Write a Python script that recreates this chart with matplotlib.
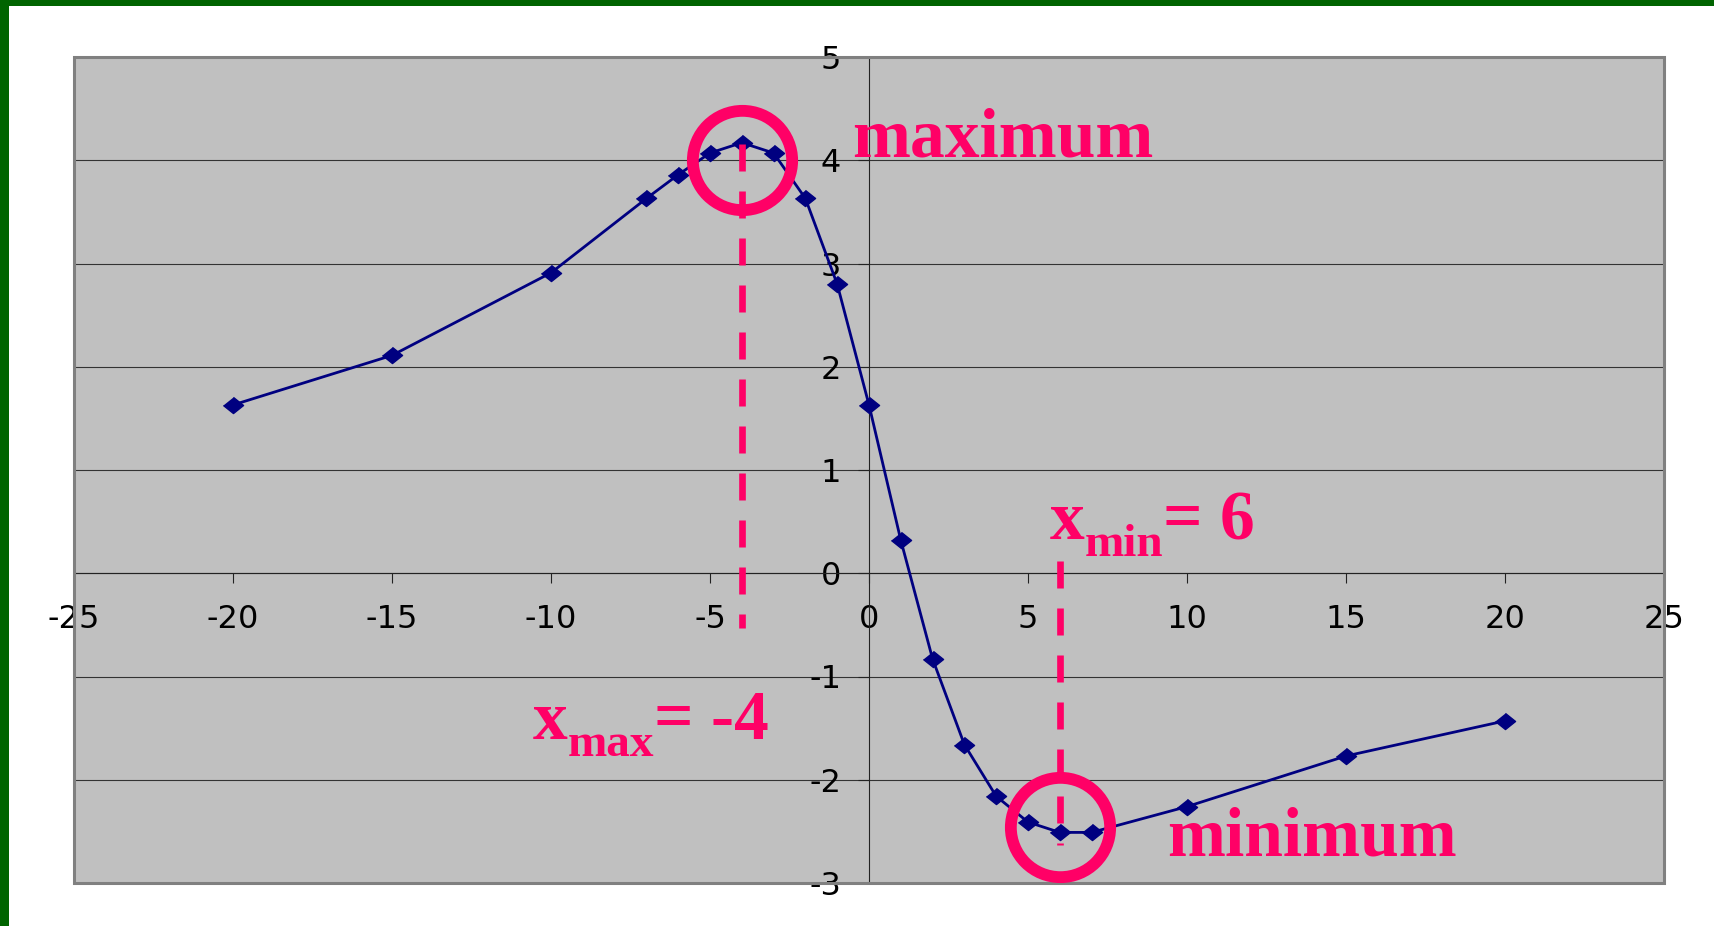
import matplotlib
matplotlib.use("Agg")
import matplotlib.pyplot as plt
from matplotlib.patches import Rectangle

# data
x_vals = [-20, -15, -10, -7, -6, -5, -4, -3, -2, -1, 0, 1, 2, 3, 4, 5, 6, 7, 10, 15, 20]
y_vals = [1.63, 2.11, 2.91, 3.63, 3.86, 4.07, 4.17, 4.07, 3.63, 2.80, 1.63, 0.32, -0.83,
          -1.66, -2.16, -2.41, -2.51, -2.51, -2.26, -1.77, -1.43]
x_ticks = [-25, -20, -15, -10, -5, 0, 5, 10, 15, 20, 25]
y_ticks = [-3, -2, -1, 0, 1, 2, 3, 4, 5]

# extrema to mark
x_max, y_max = -4, 4.0
x_min, y_min = 6, -2.46

PINK = '#FF0066'
NAVY = '#000080'

plt.rcParams['axes.unicode_minus'] = False
plt.rcParams['font.family'] = ['DejaVu Sans']

fig = plt.figure(figsize=(17.15, 9.26), dpi=100)
fig.patch.set_facecolor('white')

# green frame on the top and left edge of the slide
fig.patches.append(Rectangle((0, 1 - 6 / 926), 1, 6 / 926, transform=fig.transFigure,
                             facecolor='#006400', edgecolor='none', zorder=0))
fig.patches.append(Rectangle((0, 0), 9 / 1715, 1, transform=fig.transFigure,
                             facecolor='#006400', edgecolor='none', zorder=0))

ax = fig.add_axes([74 / 1715, 1 - 883 / 926, 1590 / 1715, 826 / 926])
ax.set_facecolor('#C0C0C0')
ax.set_xlim(-25, 25)
ax.set_ylim(-3, 5)

# axes cross at zero, like the Excel chart
ax.spines['left'].set_position(('data', 0))
ax.spines['bottom'].set_position(('data', 0))
ax.spines['top'].set_visible(False)
ax.spines['right'].set_visible(False)
for s in ('left', 'bottom'):
    ax.spines[s].set_color('#222222')
    ax.spines[s].set_linewidth(0.8)

ax.add_patch(Rectangle((0, 0), 1, 1, transform=ax.transAxes, fill=False,
                       edgecolor='#808080', linewidth=2.2, clip_on=False, zorder=5))

ax.set_xticks(x_ticks)
ax.set_yticks(y_ticks)
ax.tick_params(axis='x', direction='out', length=7, width=0.8, color='#222222',
               pad=15, labelsize=23)
ax.tick_params(axis='y', direction='out', length=8, width=0.8, color='#222222',
               pad=12, labelsize=23)

ax.yaxis.grid(True, color='#333333', linewidth=0.8)
ax.set_axisbelow(True)

diamond = [(-1, 0), (0, -0.8), (1, 0), (0, 0.8)]
ax.plot(x_vals, y_vals, color=NAVY, linewidth=2, marker=diamond, markersize=14.5,
        markerfacecolor=NAVY, markeredgecolor=NAVY, zorder=3)

# dashed guides and rings at the extrema
ax.plot([x_max, x_max], [4.16, -0.53], color=PINK, linewidth=4.8, dashes=(4.05, 3.0), zorder=4)
ax.plot([x_min, x_min], [0.12, -2.63], color=PINK, linewidth=4.8, dashes=(4.05, 3.0), zorder=4)
for cx, cy in [(x_max, y_max), (x_min, y_min)]:
    ax.plot([cx], [cy], marker='o', markersize=71.5, markerfacecolor='none',
            markeredgecolor=PINK, markeredgewidth=8.5, zorder=6, clip_on=False)

txt = dict(color=PINK, fontweight='bold', family=['Liberation Serif', 'DejaVu Serif'],
           va='baseline', zorder=7)
ax.text(-0.54, 4.04, 'maximum', fontsize=50, **txt)
ax.text(9.39, -2.735, 'minimum', fontsize=50, **txt)


def sub_label(x0, y0, main, sub, rest):
    # x with a dropped subscript, then the rest, placed one after another
    t = ax.text(x0, y0, main, fontsize=50, **txt)
    fig.canvas.draw()
    px0 = ax.transData.transform((x0, y0))[0]
    right = t.get_window_extent().x1
    t = ax.annotate(sub, xy=(x0, y0), xytext=(right - px0, -17), textcoords='offset pixels',
                    fontsize=34, **txt)
    fig.canvas.draw()
    right = t.get_window_extent().x1
    ax.annotate(rest, xy=(x0, y0), xytext=(right - px0, 0), textcoords='offset pixels',
                fontsize=50, **txt)


sub_label(-10.57, -1.61, 'x', 'max', '= -4')
sub_label(5.69, 0.33, 'x', 'min', '= 6')

fig.savefig('out.png', dpi=100, facecolor=fig.get_facecolor())
